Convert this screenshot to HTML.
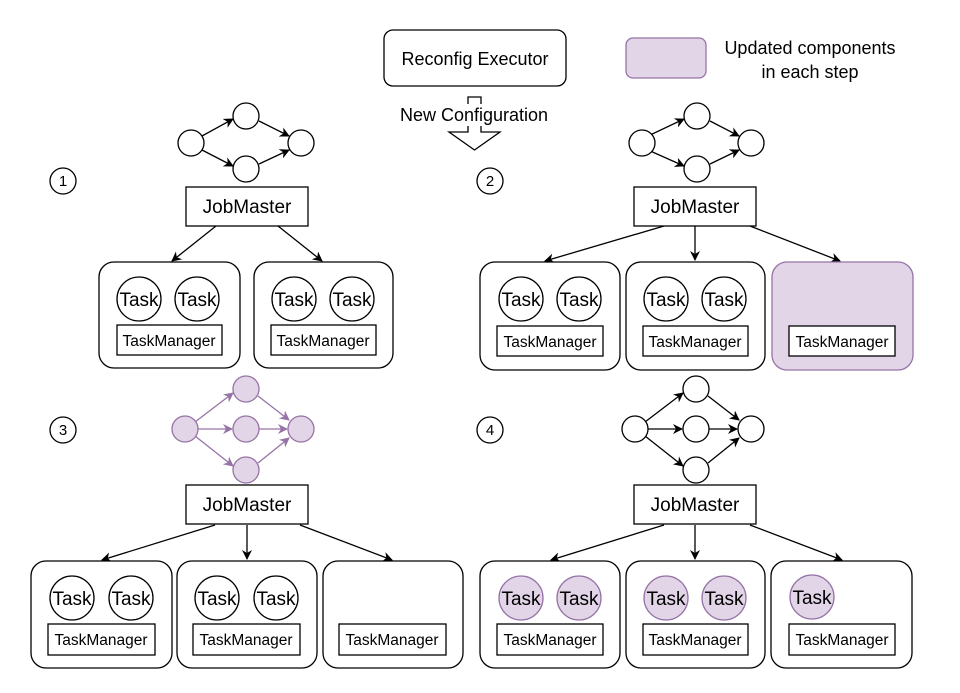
<!DOCTYPE html>
<html><head><meta charset="utf-8"><style>body{margin:0;background:#fff}</style></head><body>
<svg width="960" height="688" viewBox="0 0 960 688" xmlns="http://www.w3.org/2000/svg" font-family="Liberation Sans, Arial, sans-serif">
<defs>
<marker id="a" markerWidth="10" markerHeight="10" refX="9" refY="5" orient="auto" markerUnits="userSpaceOnUse"><path d="M0,0 L10,5 L0,10 L3,5 Z" fill="#000"/></marker>
<marker id="p" markerWidth="10" markerHeight="10" refX="9" refY="5" orient="auto" markerUnits="userSpaceOnUse"><path d="M0,0 L10,5 L0,10 L3,5 Z" fill="#9673a6"/></marker>
</defs>
<g stroke="#000" stroke-width="1.3" fill="#fff">
<rect x="384" y="30" width="182" height="56" rx="9"/>
<path d="M468,97 H481 V132 H500 L474.5,150 L449,132 H468 Z"/>
</g>
<rect x="392" y="104" width="166" height="22" fill="#fff"/>
<text x="475" y="65" font-size="18" text-anchor="middle">Reconfig Executor</text>
<text x="474" y="121" font-size="18" text-anchor="middle">New Configuration</text>
<rect x="626" y="38" width="80" height="40" rx="7" fill="#e1d5e7" stroke="#9673a6" stroke-width="1.3"/>
<text x="810" y="54" font-size="18" text-anchor="middle">Updated components</text>
<text x="810" y="78" font-size="18" text-anchor="middle">in each step</text>

<g stroke="#000" stroke-width="1.3" fill="#fff" font-size="15">
<circle cx="63" cy="181" r="13"/><circle cx="490" cy="181" r="13"/>
<circle cx="63" cy="430" r="13"/><circle cx="490" cy="430" r="13"/>
</g>
<g font-size="15" text-anchor="middle"><text x="63" y="186">1</text><text x="490" y="186">2</text><text x="63" y="435">3</text><text x="490" y="435">4</text></g>

<g stroke="#000" stroke-width="1.3" fill="none">
<line x1="202" y1="136" x2="233" y2="119" marker-end="url(#a)"/>
<line x1="202" y1="150" x2="233" y2="166" marker-end="url(#a)"/>
<line x1="259" y1="121" x2="289" y2="136" marker-end="url(#a)"/>
<line x1="259" y1="164" x2="289" y2="150" marker-end="url(#a)"/>
<line x1="648" y1="136" x2="684" y2="119" marker-end="url(#a)"/>
<line x1="648" y1="150" x2="684" y2="166" marker-end="url(#a)"/>
<line x1="710" y1="121" x2="739" y2="136" marker-end="url(#a)"/>
<line x1="710" y1="164" x2="739" y2="150" marker-end="url(#a)"/>
<line x1="645" y1="422" x2="683" y2="393" marker-end="url(#a)"/>
<line x1="648" y1="429" x2="682" y2="429" marker-end="url(#a)"/>
<line x1="645" y1="436" x2="683" y2="466" marker-end="url(#a)"/>
<line x1="708" y1="396" x2="739" y2="420" marker-end="url(#a)"/>
<line x1="709" y1="429" x2="737" y2="429" marker-end="url(#a)"/>
<line x1="708" y1="463" x2="739" y2="438" marker-end="url(#a)"/>
</g>
<g stroke="#9673a6" stroke-width="1.3" fill="none">
<line x1="195" y1="422" x2="233" y2="393" marker-end="url(#p)"/>
<line x1="198" y1="429" x2="232" y2="429" marker-end="url(#p)"/>
<line x1="195" y1="436" x2="233" y2="466" marker-end="url(#p)"/>
<line x1="258" y1="396" x2="289" y2="420" marker-end="url(#p)"/>
<line x1="259" y1="429" x2="287" y2="429" marker-end="url(#p)"/>
<line x1="258" y1="463" x2="289" y2="438" marker-end="url(#p)"/>
</g>
<g stroke="#000" stroke-width="1.3" fill="#fff">
<circle cx="191" cy="143" r="13"/><circle cx="246" cy="116" r="13"/><circle cx="246" cy="169" r="13"/><circle cx="301" cy="143" r="13"/>
<circle cx="642" cy="143" r="13"/><circle cx="697" cy="116" r="13"/><circle cx="697" cy="169" r="13"/><circle cx="751" cy="143" r="13"/>
<circle cx="635" cy="429" r="13"/><circle cx="696" cy="389" r="13"/><circle cx="696" cy="429" r="13"/><circle cx="696" cy="470" r="13"/><circle cx="751" cy="429" r="13"/>
</g>
<g stroke="#9673a6" stroke-width="1.3" fill="#e1d5e7">
<circle cx="185" cy="429" r="13"/><circle cx="246" cy="389" r="13"/><circle cx="246" cy="429" r="13"/><circle cx="246" cy="470" r="13"/><circle cx="301" cy="429" r="13"/>
</g>

<g stroke="#000" stroke-width="1.3" fill="#fff">
<rect x="186" y="187" width="122" height="39"/>
<rect x="634" y="187" width="122" height="39"/>
<rect x="186" y="485" width="122" height="39"/>
<rect x="634" y="485" width="122" height="39"/>
</g>
<g font-size="19" text-anchor="middle">
<text x="247" y="213">JobMaster</text><text x="695" y="213">JobMaster</text>
<text x="247" y="511">JobMaster</text><text x="695" y="511">JobMaster</text>
</g>
<g stroke="#000" stroke-width="1.3" fill="none">
<line x1="216" y1="226" x2="172" y2="261" marker-end="url(#a)"/>
<line x1="278" y1="226" x2="322" y2="261" marker-end="url(#a)"/>
<line x1="664" y1="226" x2="545" y2="261" marker-end="url(#a)"/>
<line x1="695" y1="226" x2="695" y2="260" marker-end="url(#a)"/>
<line x1="750" y1="226" x2="840" y2="261" marker-end="url(#a)"/>
<line x1="215" y1="525" x2="102" y2="560" marker-end="url(#a)"/>
<line x1="247" y1="525" x2="247" y2="559" marker-end="url(#a)"/>
<line x1="300" y1="525" x2="392" y2="560" marker-end="url(#a)"/>
<line x1="664" y1="525" x2="551" y2="560" marker-end="url(#a)"/>
<line x1="695" y1="525" x2="695" y2="559" marker-end="url(#a)"/>
<line x1="750" y1="525" x2="842" y2="560" marker-end="url(#a)"/>
</g>
<g stroke="#000" stroke-width="1.3" fill="#fff">
<rect x="99" y="262" width="141" height="106" rx="15"/>
<rect x="254" y="262" width="139" height="106" rx="15"/>
<rect x="480" y="262" width="140" height="108" rx="15"/>
<rect x="626" y="262" width="139" height="108" rx="15"/>
<rect x="31" y="561" width="141" height="107" rx="15"/>
<rect x="177" y="561" width="140" height="107" rx="15"/>
<rect x="323" y="561" width="140" height="107" rx="15"/>
<rect x="480" y="561" width="140" height="107" rx="15"/>
<rect x="626" y="561" width="139" height="107" rx="15"/>
<rect x="771" y="561" width="141" height="107" rx="15"/>
</g>
<rect x="772" y="262" width="141" height="108" rx="15" fill="#e1d5e7" stroke="#9673a6" stroke-width="1.3"/>
<g stroke="#000" stroke-width="1.3" fill="#fff">
<rect x="117" y="325" width="105" height="30"/><rect x="271" y="325" width="105" height="30"/>
<rect x="497" y="326" width="106" height="30"/><rect x="643" y="326" width="105" height="30"/><rect x="789" y="326" width="106" height="30"/>
<rect x="48" y="624" width="107" height="31"/><rect x="193" y="624" width="107" height="31"/><rect x="339" y="624" width="107" height="31"/>
<rect x="497" y="624" width="106" height="31"/><rect x="643" y="624" width="105" height="31"/><rect x="789" y="624" width="106" height="31"/>
</g>
<g font-size="15.5" text-anchor="middle">
<text x="169" y="346">TaskManager</text><text x="323" y="346">TaskManager</text>
<text x="550" y="347">TaskManager</text><text x="695" y="347">TaskManager</text><text x="842" y="347">TaskManager</text>
<text x="101" y="645">TaskManager</text><text x="246" y="645">TaskManager</text><text x="392" y="645">TaskManager</text>
<text x="550" y="645">TaskManager</text><text x="695" y="645">TaskManager</text><text x="842" y="645">TaskManager</text>
</g>
<g stroke="#000" stroke-width="1.3" fill="#fff">
<circle cx="139" cy="299" r="22"/><circle cx="197" cy="299" r="22"/><circle cx="294" cy="299" r="22"/><circle cx="352" cy="299" r="22"/>
<circle cx="521" cy="299" r="22"/><circle cx="579" cy="299" r="22"/><circle cx="666" cy="299" r="22"/><circle cx="724" cy="299" r="22"/>
<circle cx="72" cy="598" r="22"/><circle cx="131" cy="598" r="22"/><circle cx="217" cy="598" r="22"/><circle cx="276" cy="598" r="22"/>
</g>
<g stroke="#9673a6" stroke-width="1.3" fill="#e1d5e7">
<circle cx="521" cy="598" r="22"/><circle cx="579" cy="598" r="22"/><circle cx="666" cy="598" r="22"/><circle cx="724" cy="598" r="22"/><circle cx="812" cy="597" r="22"/>
</g>
<g font-size="19" text-anchor="middle">
<text x="139" y="306">Task</text><text x="197" y="306">Task</text><text x="294" y="306">Task</text><text x="352" y="306">Task</text>
<text x="521" y="306">Task</text><text x="579" y="306">Task</text><text x="666" y="306">Task</text><text x="724" y="306">Task</text>
<text x="72" y="605">Task</text><text x="131" y="605">Task</text><text x="217" y="605">Task</text><text x="276" y="605">Task</text>
<text x="521" y="605">Task</text><text x="579" y="605">Task</text><text x="666" y="605">Task</text><text x="724" y="605">Task</text><text x="812" y="604">Task</text>
</g>
</svg>
</body></html>
